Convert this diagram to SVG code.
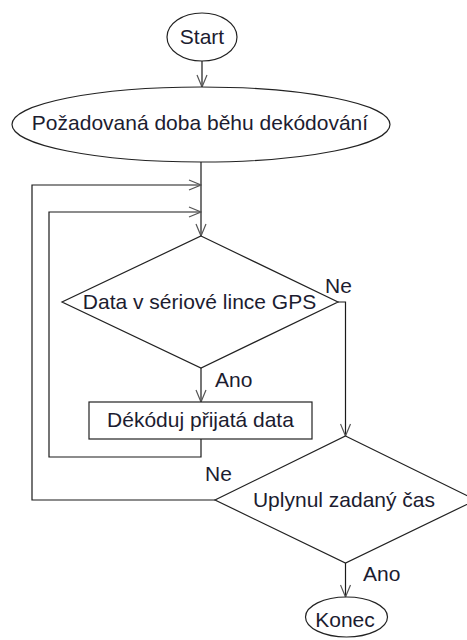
<svg xmlns="http://www.w3.org/2000/svg" width="467" height="640" viewBox="0 0 467 640">
  <style>
    .shape { fill: #ffffff; stroke: #222222; stroke-width: 1.2; }
    .line { fill: none; stroke: #1a1a1a; stroke-width: 1.2; }
    .label { font-family: "Liberation Sans", Arial, sans-serif; font-size: 21px; fill: #1c1c30; }
    .mid { text-anchor: middle; }
  </style>
  <defs>
    <marker id="arrow" viewBox="-13 -6 14 12" refX="0" refY="0" markerWidth="14" markerHeight="12" markerUnits="userSpaceOnUse" orient="auto">
      <path d="M-12,-5 L0,0 L-12,5" fill="none" stroke="#555555" stroke-width="1.2"/>
    </marker>
  </defs>

  <rect width="467" height="640" fill="#ffffff"/>

  <!-- connectors -->
  <g id="connectors">
    <path class="line" d="M202,61 V87" marker-end="url(#arrow)"/>
    <path class="line" d="M201,162 V236" marker-end="url(#arrow)"/>
    <path class="line" d="M215,500 H32 V185 H201" marker-end="url(#arrow)"/>
    <path class="line" d="M201,439 V457 H49 V212 H201" marker-end="url(#arrow)"/>
    <path class="line" d="M201,368 V402" marker-end="url(#arrow)"/>
    <path class="line" d="M338,302 H345.5 V436" marker-end="url(#arrow)"/>
    <path class="line" d="M345.5,563 V597" marker-end="url(#arrow)"/>
    <text class="label" x="325" y="293">Ne</text>
    <text class="label" x="215" y="387">Ano</text>
    <text class="label" x="205" y="481">Ne</text>
    <text class="label" x="363" y="581">Ano</text>
  </g>

  <g id="start">
    <ellipse class="shape" cx="202" cy="37" rx="35" ry="24"/>
    <text class="label mid" x="202" y="44">Start</text>
  </g>

  <g id="duration">
    <ellipse class="shape" cx="201" cy="124.5" rx="189" ry="37.5"/>
    <text class="label mid" x="200" y="130">Požadovaná doba běhu dekódování</text>
  </g>

  <g id="data-check">
    <polygon class="shape" points="201,236 338,302 201,368 62,302"/>
    <text class="label mid" x="199.5" y="309">Data v sériové lince GPS</text>
  </g>

  <g id="decode">
    <rect class="shape" x="89" y="402" width="223" height="37"/>
    <text class="label mid" x="200.5" y="427">Dékóduj přijatá data</text>
  </g>

  <g id="time-check">
    <polygon class="shape" points="345.5,436 476,500 345.5,563 215,500"/>
    <text class="label mid" x="344" y="507">Uplynul zadaný čas</text>
  </g>

  <g id="end">
    <ellipse class="shape" cx="346.5" cy="617" rx="41" ry="20"/>
    <text class="label mid" x="345" y="627">Konec</text>
  </g>
</svg>
